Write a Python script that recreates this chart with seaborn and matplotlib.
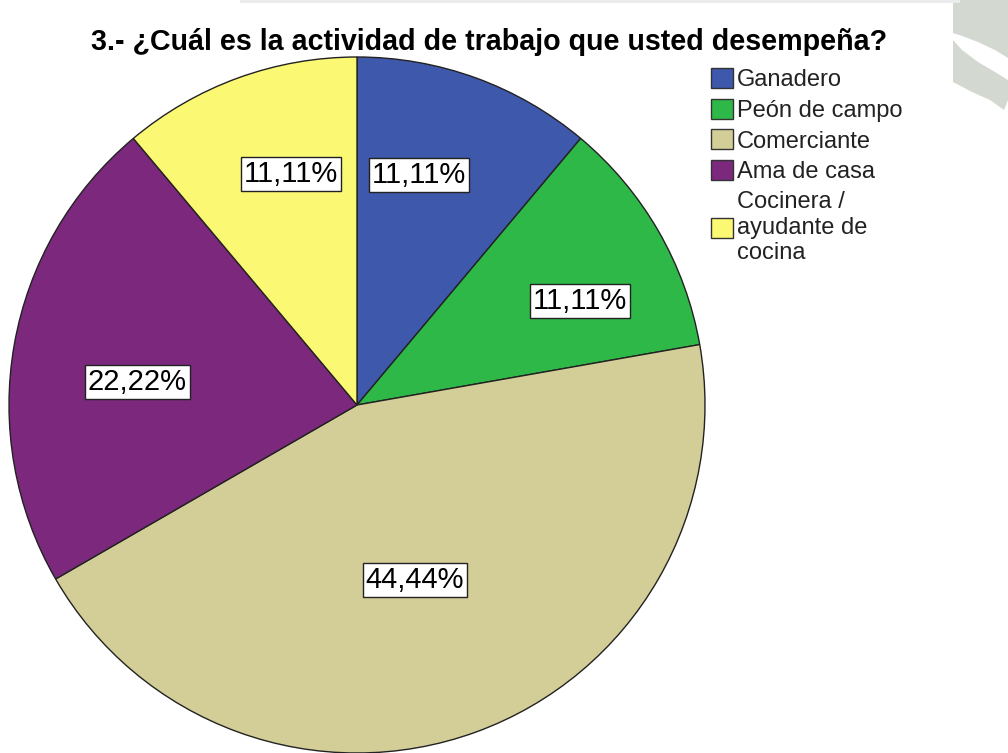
import matplotlib
matplotlib.use("Agg")
import matplotlib.pyplot as plt
import matplotlib.patches as mpatches
import numpy as np
import seaborn as sns

categories = ["Ganadero", "Peón de campo", "Comerciante", "Ama de casa",
              "Cocinera /\nayudante de\ncocina"]
values = [11.11, 11.11, 44.44, 22.22, 11.11]
pct_labels = ["11,11%", "11,11%", "44,44%", "22,22%", "11,11%"]
colors = ["#3E58AC", "#2EB848", "#D3CE97", "#7C287D", "#FBF873"]
# label placement (fraction of radius, angular shift in degrees)
label_radius = [0.685, 0.707, 0.53, 0.635, 0.69]
label_shift = [5, -5, -1.7, 4, -4]

sns.set_theme(style="white")
plt.rcParams['font.family'] = ['Liberation Sans', 'DejaVu Sans']
palette = sns.color_palette(colors)

W, H = 1008, 753
fig = plt.figure(figsize=(W/100, H/100), dpi=100)
fig.patch.set_facecolor("white")

# faint watermark decoration (background)
def px(pts):
    return [(x / W, 1 - y / H) for x, y in pts]
wm = "#d3d9d1"
fig.patches.append(mpatches.Polygon(px([(953, 0), (1008, 0), (1008, 58), (995, 50),
                                        (978, 42), (962, 36), (953, 33)]),
                                    closed=True, fc=wm, ec="none", transform=fig.transFigure))
fig.patches.append(mpatches.Polygon(px([(953, 40), (962, 50), (978, 62), (995, 72),
                                        (1008, 80), (1008, 100), (1004, 110), (990, 100),
                                        (972, 92), (953, 82)]),
                                    closed=True, fc=wm, ec="none", transform=fig.transFigure))
fig.patches.append(mpatches.Rectangle((240/W, 1 - 3/H), 720/W, 3/H, fc="#ececec", ec="none",
                                      transform=fig.transFigure))

ax = fig.add_axes([9/W, 0/H, 696/W, 696/H])
wedges, _ = ax.pie(values, colors=palette, startangle=90, counterclock=False,
                   radius=1, wedgeprops=dict(edgecolor="#222222", linewidth=1.0))
for w, lab, r, s in zip(wedges, pct_labels, label_radius, label_shift):
    ang = np.deg2rad((w.theta1 + w.theta2) / 2 + s)
    ax.text(r*np.cos(ang), r*np.sin(ang), lab, ha="center", va="center",
            fontsize=21, color="black",
            bbox=dict(boxstyle="square,pad=0.1", fc="white", ec="#222222", lw=1.0))
ax.set_xlim(-1, 1)
ax.set_ylim(-1, 1)
ax.set_aspect("equal")
ax.axis("off")

fig.text(489/W, 1-42/H, "3.- ¿Cuál es la actividad de trabajo que usted desempeña?",
         ha="center", va="center", fontsize=20.6, fontweight="bold", color="black")

handles = [mpatches.Patch(facecolor=c, edgecolor="#333333", linewidth=1.0) for c in palette]
leg = fig.legend(handles, categories, loc="upper left",
                 bbox_to_anchor=(711/W, 1-68/H), frameon=False,
                 fontsize=17, handlelength=0.93, handleheight=0.93,
                 handletextpad=0.17, labelspacing=0.32, borderpad=0, borderaxespad=0)
for t in leg.get_texts():
    t.set_color("#222222")
    t.set_linespacing(1.22)

fig.savefig("out.png", dpi=100)
